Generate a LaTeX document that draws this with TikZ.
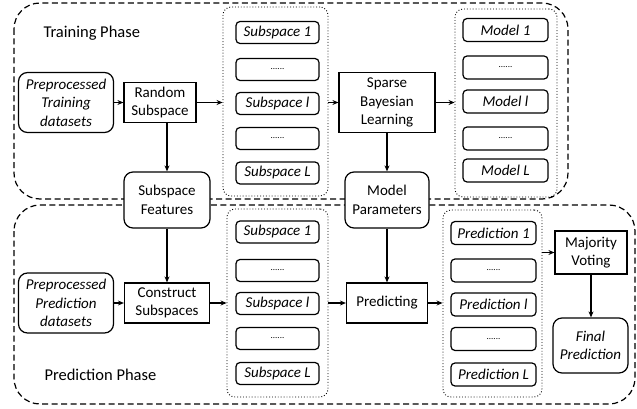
\documentclass[tikz,border=0pt]{standalone}
\usepackage{fontspec}
\setmainfont{Carlito}
\usetikzlibrary{arrows.meta}
\begin{document}
\begin{tikzpicture}[x=1pt,y=-1pt,
 box/.style={draw, line width=1.2pt, fill=white, align=center, inner sep=0pt, font=\fontsize{15}{18.5}\selectfont},
 rbox/.style={box, rounded corners=9pt},
 sbox/.style={box, rounded corners=4pt, minimum width=83pt, minimum height=22pt, font=\itshape\fontsize{15}{18}\selectfont},
 mbox/.style={sbox, minimum width=85pt, minimum height=23pt},
 cont/.style={draw, dotted, line width=0.9pt, rounded corners=8pt, inner sep=0pt},
 phase/.style={draw, line width=1.2pt, rounded corners=26pt, dash pattern=on 6pt off 3.5pt},
 arr/.style={-{Stealth[length=6pt,width=5pt]}, line width=1.2pt},
 lbl/.style={anchor=west, font=\fontsize{16.5}{20}\selectfont}]
\useasboundingbox (0,0) rectangle (637,409);
% phases
\draw[phase] (14,3) rectangle (568,199);
\draw[phase] (14,205) rectangle (635,404);
\node[lbl] (tp) at (40,33) {Training Phase};
\node[lbl] (pp) at (41,375) {Prediction Phase};
% containers
\node[cont, minimum width=105pt, minimum height=189pt] (c1) at (275.5,101.5) {};
\node[cont, minimum width=102pt, minimum height=188pt] (c2) at (506,103) {};
\node[cont, minimum width=101pt, minimum height=188pt] (c3) at (277.5,303) {};
\node[cont, minimum width=99pt, minimum height=187pt] (c4) at (492.5,303.5) {};
% training row
\node[rbox, minimum width=95pt, minimum height=60pt, font=\itshape\fontsize{15}{18.5}\selectfont] (ptd) at (66,102.5) {Preprocessed\\Training\\datasets};
\node[box, minimum width=72pt, minimum height=40pt] (rs) at (160,102.5) {Random\\Subspace};
\node[box, minimum width=96pt, minimum height=60pt] (sbl) at (387,102.5) {Sparse\\Bayesian\\Learning};
\node[sbox] (s1) at (277.5,32.5) {Subspace 1};
\node[sbox] (s2) at (277.5,69.5) {\normalfont\fontsize{9}{10}\selectfont ......};
\node[sbox] (s3) at (277.5,103.5) {Subspace \textit{l}};
\node[sbox] (s4) at (277.5,138.5) {\normalfont\fontsize{9}{10}\selectfont ......};
\node[sbox] (s5) at (277.5,173) {Subspace L};
\node[mbox] (m1) at (505.5,30) {Model 1};
\node[mbox] (m2) at (505.5,67.5) {\normalfont\fontsize{9}{10}\selectfont ......};
\node[mbox] (m3) at (505.5,101.5) {Model \textit{l}};
\node[mbox] (m4) at (505.5,138.5) {\normalfont\fontsize{9}{10}\selectfont ......};
\node[mbox] (m5) at (505.5,170.5) {Model L};
% middle
\node[rbox, minimum width=86pt, minimum height=56pt] (sf) at (167,200) {Subspace\\Features};
\node[rbox, minimum width=84pt, minimum height=56pt] (mp) at (387,200) {Model\\Parameters};
% prediction row
\node[rbox, minimum width=95pt, minimum height=60pt, font=\itshape\fontsize{15}{18.5}\selectfont] (ppd) at (66,303) {Preprocessed\\Prediction\\datasets};
\node[box, minimum width=85pt, minimum height=40pt] (cs) at (167,303) {Construct\\Subspaces};
\node[box, minimum width=81pt, minimum height=40pt] (pr) at (387,303) {Predicting};
\node[sbox] (u1) at (277.5,232) {Subspace 1};
\node[sbox] (u2) at (277.5,270.5) {\normalfont\fontsize{9}{10}\selectfont ......};
\node[sbox] (u3) at (277.5,303.5) {Subspace \textit{l}};
\node[sbox] (u4) at (277.5,338.5) {\normalfont\fontsize{9}{10}\selectfont ......};
\node[sbox] (u5) at (277.5,373.5) {Subspace L};
\node[mbox] (p1) at (493.5,233) {Prediction 1};
\node[mbox] (p2) at (493.5,270.5) {\normalfont\fontsize{9}{10}\selectfont ......};
\node[mbox] (p3) at (493.5,304.5) {Prediction \textit{l}};
\node[mbox] (p4) at (493.5,339) {\normalfont\fontsize{9}{10}\selectfont ......};
\node[mbox] (p5) at (493.5,374.5) {Prediction L};
\node[box, minimum width=72pt, minimum height=43pt] (mv) at (591,252.5) {Majority\\Voting};
\node[rbox, minimum width=75pt, minimum height=55pt, font=\itshape\fontsize{15}{18.5}\selectfont] (fp) at (590.5,345.5) {Final\\Prediction};
% arrows
\draw[arr] (ptd.east) -- (rs.west);
\draw[arr] (rs.east) -- (rs.east -| c1.west);
\draw[arr] (c1.east |- sbl) -- (sbl.west);
\draw[arr] (sbl.east) -- (sbl.east -| c2.west);
\draw[arr] (rs.south -| sf.north) -- (sf.north);
\draw[arr] (sbl.south) -- (mp.north);
\draw[arr] (sf.south) -- (cs.north);
\draw[arr] (mp.south) -- (pr.north);
\draw[arr] (ppd.east) -- (cs.west);
\draw[arr] (cs.east) -- (cs.east -| c3.west);
\draw[arr] (c3.east |- pr) -- (pr.west);
\draw[arr] (pr.east) -- (pr.east -| c4.west);
\draw[arr] (c4.east |- mv) -- (mv.west);
\draw[arr] (mv.south) -- (mv.south |- fp.north);
\end{tikzpicture}
\end{document}
